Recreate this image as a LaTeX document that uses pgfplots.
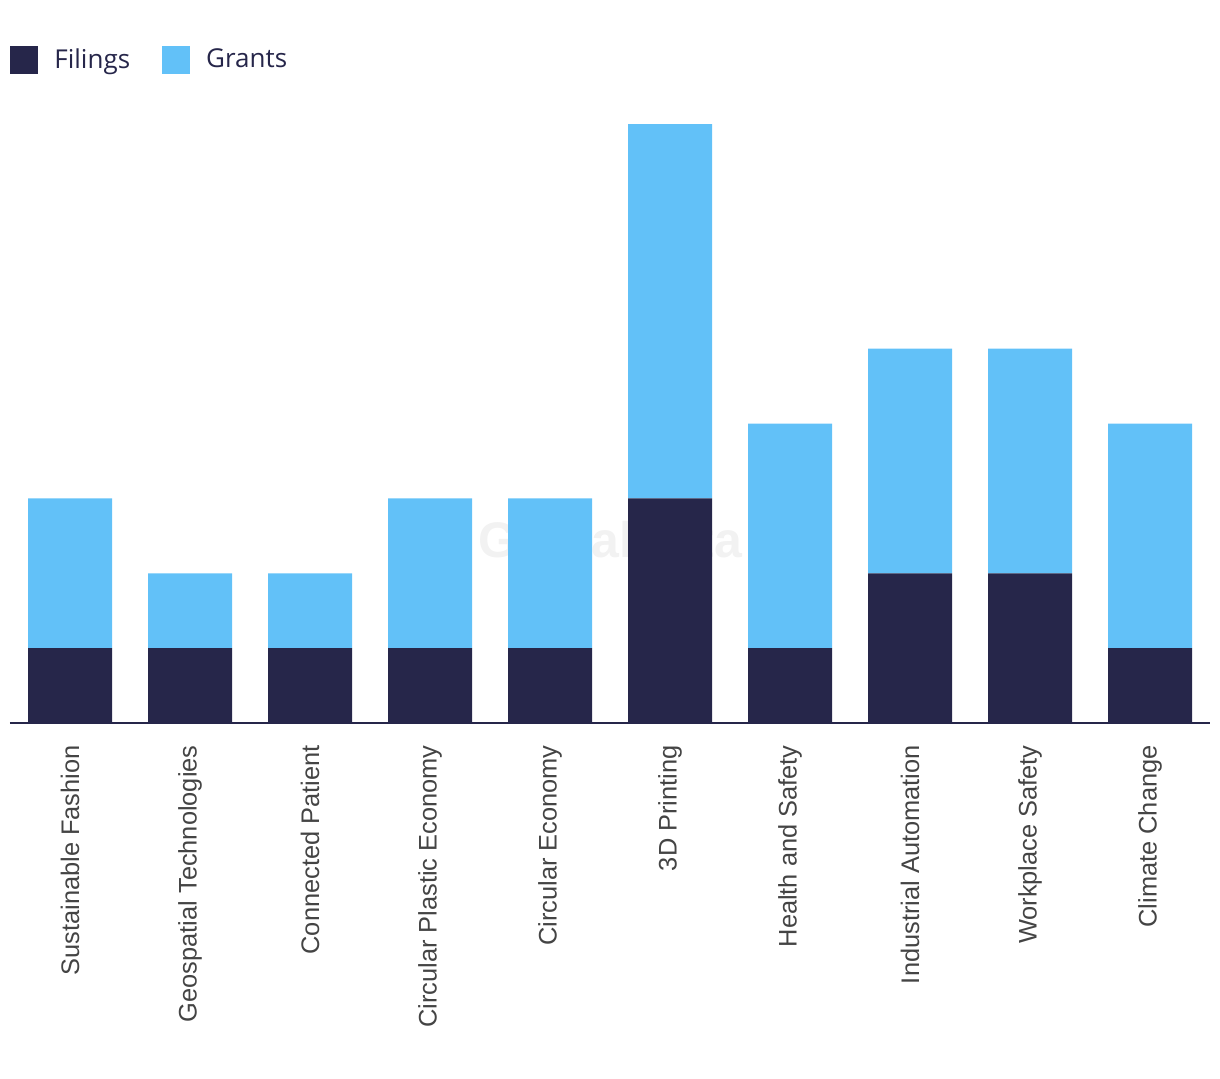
\documentclass[border=0pt]{standalone}
\usepackage{pgfplots}
\pgfplotsset{compat=1.18}
\usepackage{fontspec}
\setmainfont{Liberation Sans}
\newfontfamily\legfont{Open Sans}
\definecolor{filings}{HTML}{26264A}
\definecolor{grants}{HTML}{62C1F8}
\definecolor{ticktext}{HTML}{444444}
\begin{document}
\begin{tikzpicture}
\path[use as bounding box] (0,0) rectangle (610pt,539pt);
\begin{axis}[
  at={(5pt,177.5pt)}, anchor=south west,
  scale only axis, width=600pt, height=299.5pt,
  ybar stacked, bar width=42pt,
  xmin=-0.5, xmax=9.5, ymin=0, ymax=8,
  axis y line=none, axis x line*=bottom,
  x axis line style={-, draw=filings, line width=1pt},
  xtick=data, major tick length=0pt,
  xticklabels={Sustainable Fashion, Geospatial Technologies, Connected Patient, Circular Plastic Economy, Circular Economy, 3D Printing, Health and Safety, Industrial Automation, Workplace Safety, Climate Change},
  xticklabel style={rotate=90, anchor=east, inner sep=0pt, xshift=-11pt, font=\fontsize{12.7pt}{15pt}\selectfont, text=ticktext},
  legend columns=2,
  area legend,
  legend image code/.code={\fill[#1, draw=none] (0pt,-7pt) rectangle (14pt,7pt);},
  legend style={draw=none, fill=none, at={(axis description cs:0,1)}, anchor=west, xshift=0pt, yshift=32pt,
    font=\legfont\fontsize{13pt}{15pt}\selectfont, text=filings, inner sep=0pt,
    /tikz/every even column/.append style={column sep=8pt},
    nodes={inner xsep=8pt}},
]
\addplot[fill=filings, draw=none] coordinates {(0,1) (1,1) (2,1) (3,1) (4,1) (5,3) (6,1) (7,2) (8,2) (9,1)};
\addplot[fill=grants, draw=none] coordinates {(0,2) (1,1) (2,1) (3,2) (4,2) (5,5) (6,3) (7,3) (8,3) (9,3)};
\legend{Filings, Grants}
\node[font=\bfseries\fontsize{25pt}{30pt}\selectfont, text=black!15, opacity=0.35] at (axis cs:4.5,2.45) {GlobalData};
\end{axis}
\end{tikzpicture}
\end{document}
